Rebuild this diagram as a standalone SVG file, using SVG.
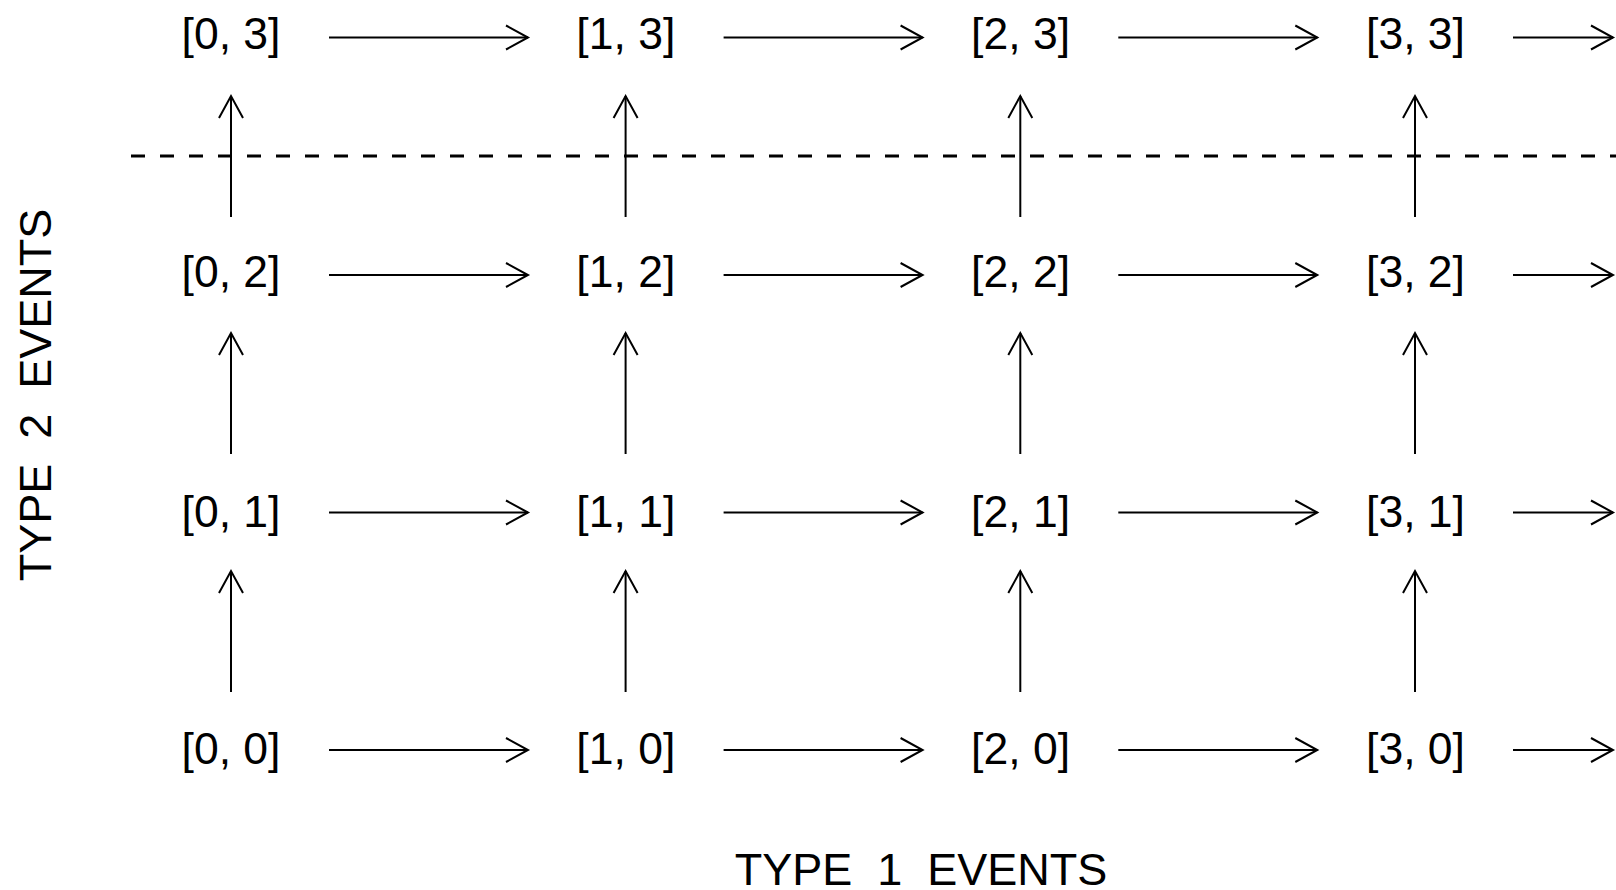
<svg xmlns="http://www.w3.org/2000/svg" width="1616" height="890" viewBox="0 0 1616 890">
  <style>
    .lbl { font-family: "Liberation Sans", Arial, sans-serif; font-size: 44.5px; fill: #000; text-anchor: middle; }
    .axis { font-family: "Liberation Sans", Arial, sans-serif; font-size: 45px; fill: #000; text-anchor: middle; white-space: pre; }
    .arr { stroke: #000; stroke-width: 2; fill: none; marker-end: url(#head); }
    .cut { stroke: #000; stroke-width: 3; fill: none; stroke-dasharray: 14 15; }
  </style>
  <defs>
    <marker id="head" markerUnits="userSpaceOnUse" markerWidth="30" markerHeight="30" refX="24" refY="13" orient="auto" overflow="visible">
      <path d="M 2 1 L 24 13 L 2 25" stroke="#000" stroke-width="2" fill="none"/>
    </marker>
  </defs>
  <rect width="1616" height="890" fill="#fff"/>

  <!-- state nodes [i, j]; columns at x = 231, 625.6, 1020.3, 1415.5 -->
  <g id="n03"><text class="lbl" x="231" y="48.5">[0, 3]</text></g>
  <g id="n13"><text class="lbl" x="625.8" y="48.5">[1, 3]</text></g>
  <g id="n23"><text class="lbl" x="1020.6" y="48.5">[2, 3]</text></g>
  <g id="n33"><text class="lbl" x="1415.5" y="48.5">[3, 3]</text></g>

  <g id="n02"><text class="lbl" x="231" y="287">[0, 2]</text></g>
  <g id="n12"><text class="lbl" x="625.8" y="287">[1, 2]</text></g>
  <g id="n22"><text class="lbl" x="1020.6" y="287">[2, 2]</text></g>
  <g id="n32"><text class="lbl" x="1415.5" y="287">[3, 2]</text></g>

  <g id="n01"><text class="lbl" x="231" y="526.5">[0, 1]</text></g>
  <g id="n11"><text class="lbl" x="625.8" y="526.5">[1, 1]</text></g>
  <g id="n21"><text class="lbl" x="1020.6" y="526.5">[2, 1]</text></g>
  <g id="n31"><text class="lbl" x="1415.5" y="526.5">[3, 1]</text></g>

  <g id="n00"><text class="lbl" x="231" y="763.5">[0, 0]</text></g>
  <g id="n10"><text class="lbl" x="625.8" y="763.5">[1, 0]</text></g>
  <g id="n20"><text class="lbl" x="1020.6" y="763.5">[2, 0]</text></g>
  <g id="n30"><text class="lbl" x="1415.5" y="763.5">[3, 0]</text></g>

  <!-- connectors -->
  <g id="connectors">
    <!-- horizontal: type 1 events -->
    <line class="arr" x1="329" y1="37.5" x2="528" y2="37.5"/>
    <line class="arr" x1="723.6" y1="37.5" x2="922.6" y2="37.5"/>
    <line class="arr" x1="1118.3" y1="37.5" x2="1317.3" y2="37.5"/>
    <line class="arr" x1="1513" y1="37.5" x2="1613" y2="37.5"/>

    <line class="arr" x1="329" y1="275" x2="528" y2="275"/>
    <line class="arr" x1="723.6" y1="275" x2="922.6" y2="275"/>
    <line class="arr" x1="1118.3" y1="275" x2="1317.3" y2="275"/>
    <line class="arr" x1="1513" y1="275" x2="1613" y2="275"/>

    <line class="arr" x1="329" y1="512.5" x2="528" y2="512.5"/>
    <line class="arr" x1="723.6" y1="512.5" x2="922.6" y2="512.5"/>
    <line class="arr" x1="1118.3" y1="512.5" x2="1317.3" y2="512.5"/>
    <line class="arr" x1="1513" y1="512.5" x2="1613" y2="512.5"/>

    <line class="arr" x1="329" y1="750" x2="528" y2="750"/>
    <line class="arr" x1="723.6" y1="750" x2="922.6" y2="750"/>
    <line class="arr" x1="1118.3" y1="750" x2="1317.3" y2="750"/>
    <line class="arr" x1="1513" y1="750" x2="1613" y2="750"/>

    <!-- vertical: type 2 events -->
    <line class="arr" x1="231" y1="217" x2="231" y2="96"/>
    <line class="arr" x1="625.6" y1="217" x2="625.6" y2="96"/>
    <line class="arr" x1="1020.3" y1="217" x2="1020.3" y2="96"/>
    <line class="arr" x1="1415" y1="217" x2="1415" y2="96"/>

    <line class="arr" x1="231" y1="454" x2="231" y2="333"/>
    <line class="arr" x1="625.6" y1="454" x2="625.6" y2="333"/>
    <line class="arr" x1="1020.3" y1="454" x2="1020.3" y2="333"/>
    <line class="arr" x1="1415" y1="454" x2="1415" y2="333"/>

    <line class="arr" x1="231" y1="692" x2="231" y2="571"/>
    <line class="arr" x1="625.6" y1="692" x2="625.6" y2="571"/>
    <line class="arr" x1="1020.3" y1="692" x2="1020.3" y2="571"/>
    <line class="arr" x1="1415" y1="692" x2="1415" y2="571"/>

    <!-- cut line between rows 2 and 3 -->
    <line class="cut" x1="131" y1="156" x2="1616" y2="156"/>
  </g>

  <!-- axis titles -->
  <text class="axis" x="921" y="885" xml:space="preserve">TYPE  1  EVENTS</text>
  <text class="axis" transform="translate(50.5 395) rotate(-90)" x="0" y="0" xml:space="preserve">TYPE  2  EVENTS</text>
</svg>
